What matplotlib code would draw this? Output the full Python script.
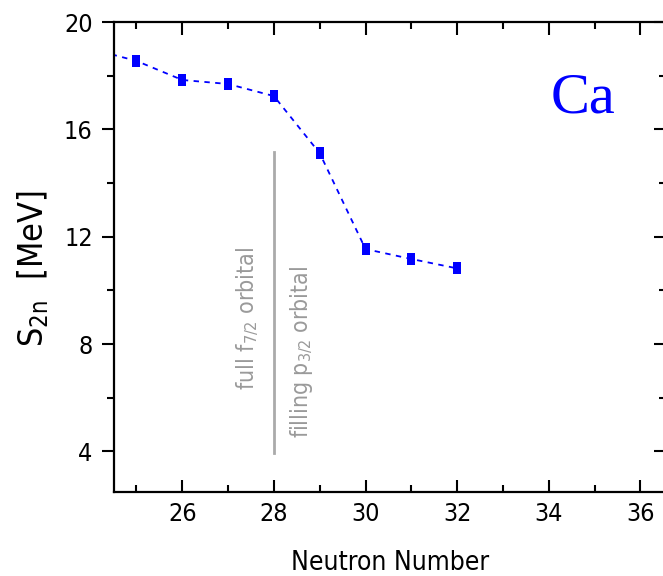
import matplotlib
matplotlib.use("Agg")
import matplotlib.pyplot as plt
from matplotlib.ticker import MultipleLocator

# Data
neutron_number = [24, 25, 26, 27, 28, 29, 30, 31, 32]
s2n_mev = [19.0, 18.55, 17.84, 17.69, 17.24, 15.11, 11.54, 11.17, 10.82]

x_ticks = [26, 28, 30, 32, 34, 36]
y_ticks = [4, 8, 12, 16, 20]

plt.rcParams['font.family'] = ['DejaVu Sans']
plt.rcParams['font.stretch'] = 'condensed'
plt.rcParams['mathtext.fontset'] = 'custom'
plt.rcParams['mathtext.rm'] = 'DejaVu Sans:stretch=condensed'

fig = plt.figure(figsize=(6.63, 5.76), dpi=100)
ax = fig.add_axes([0.1713, 0.1464, 0.8326, 0.8154])

rect = [(-0.75, -1), (0.75, -1), (0.75, 1), (-0.75, 1), (-0.75, -1)]
ax.plot(neutron_number, s2n_mev, color='#0000ff', linestyle=(0, (3, 3)),
        linewidth=1.3, marker=rect, markersize=8, markeredgewidth=0,
        markerfacecolor='#0000ff')

# shell-closure line and annotations
ax.plot([28, 28], [3.95, 15.15], color='#aaaaaa', linewidth=2)
ax.text(27.42, 6.3, r'full f$_{\mathrm{7/2}}$ orbital', rotation=90, color='#9a9a9a',
        fontsize=16.7, ha='center', va='bottom')
ax.text(28.61, 4.5, r'filling p$_{\mathrm{3/2}}$ orbital', rotation=90, color='#9a9a9a',
        fontsize=16.5, ha='center', va='bottom')

ax.text(0.7915, 0.808, 'Ca', transform=ax.transAxes, color='#0000ff',
        fontsize=42, family='Liberation Serif', stretch='normal',
        ha='left', va='baseline')

ax.set_xlim(24.5, 36.55)
ax.set_ylim(2.5, 20)
ax.set_xticks(x_ticks)
ax.set_yticks(y_ticks)
ax.xaxis.set_minor_locator(MultipleLocator(1))
ax.yaxis.set_minor_locator(MultipleLocator(2))

for s in ax.spines.values():
    s.set_linewidth(1.6)
ax.spines['right'].set_visible(False)

ax.tick_params(axis='x', which='both', direction='in', top=True, width=1.5,
               labelsize=18, pad=7.5)
ax.tick_params(axis='x', which='major', length=9)
ax.tick_params(axis='x', which='minor', length=5)
ax.tick_params(axis='y', which='both', direction='out', width=1.5, labelsize=18, pad=6)
ax.tick_params(axis='y', which='major', length=9)
ax.tick_params(axis='y', which='minor', length=5)

sec = ax.secondary_yaxis('right')
sec.set_yticks(y_ticks)
sec.yaxis.set_minor_locator(MultipleLocator(2))
sec.tick_params(axis='y', which='both', direction='in', width=1.5, labelright=False)
sec.tick_params(axis='y', which='major', length=9)
sec.tick_params(axis='y', which='minor', length=5)
sec.spines['right'].set_visible(False)

ax.set_xlabel('Neutron Number', fontsize=19)
ax.xaxis.set_label_coords(0.5, -0.124)
ax.set_ylabel(r'S$_{\mathrm{2n}}$  [MeV]', fontsize=24.5)
ax.yaxis.set_label_coords(-0.113, 0.474)

fig.savefig('out.png', dpi=100)
